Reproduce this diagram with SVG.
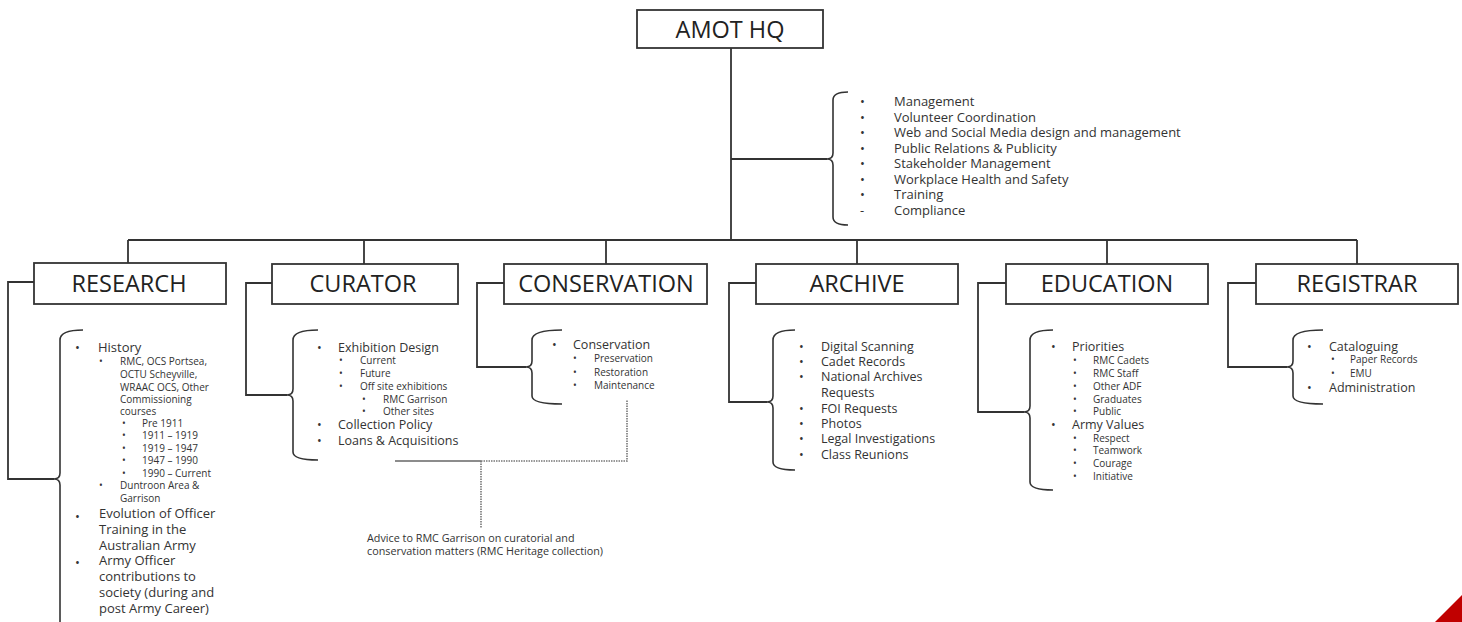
<svg xmlns="http://www.w3.org/2000/svg" width="1462" height="622" viewBox="0 0 1462 622">
<style>
.box{fill:#fff;stroke:#333;stroke-width:1.8}
.lbl{font-family:"Open Sans","Liberation Sans",sans-serif;font-size:23.5px;fill:#222;text-anchor:middle}
.ln{fill:none;stroke:#333;stroke-width:1.8}
.br{fill:none;stroke:#333;stroke-width:1.6}
.dot{fill:none;stroke:#777;stroke-width:1.6;stroke-dasharray:1.5 1}
.t1{font-family:"Open Sans","Liberation Sans",sans-serif;font-size:13px;fill:#333}
.t0{font-family:"Open Sans","Liberation Sans",sans-serif;font-size:12.5px;fill:#333}
.th{font-family:"Open Sans","Liberation Sans",sans-serif;font-size:13px;fill:#333}
.t2{font-family:"Open Sans","Liberation Sans",sans-serif;font-size:10px;fill:#333}
.note{font-family:"Open Sans","Liberation Sans",sans-serif;font-size:10.8px;fill:#333}
</style>
<rect width="1462" height="622" fill="#fff"/>

<g id="connectors">
<path class="ln" d="M731,48 V240"/>
<path class="ln" d="M731,159 H827"/>
<path class="ln" d="M128,240 H1357"/>
<path class="ln" d="M128,240 V263 M364,240 V264 M606,240 V264 M857,240 V264 M1107,240 V264 M1357,240 V264"/>
<path class="ln" d="M34,282 H8 V479 H54"/>
<path class="ln" d="M272,283 H246 V395 H287"/>
<path class="ln" d="M504,283 H477 V367 H526"/>
<path class="ln" d="M756,283 H729 V402 H767"/>
<path class="ln" d="M1006,283 H978 V412 H1024"/>
<path class="ln" d="M1256,283 H1228 V367 H1287"/>
<path class="ln" d="M395,461 H481" style="stroke:#666;stroke-width:1.4"/>
<path class="dot" d="M481,461 H627 V400"/>
<path class="dot" d="M481,461 V528"/>
</g>

<g id="hq">
<rect class="box" x="637" y="10" width="186" height="38"/>
<text class="lbl" x="730" y="38">AMOT HQ</text>
</g>

<g id="hq-list">
<path class="br" d="M848,92 Q833,92 833,100 V153 Q833,159 827,159 Q833,159 833,165 V217 Q833,225 848,225"/>
<g class="th">
<text x="860" y="106">•</text><text x="894" y="106">Management</text>
<text x="860" y="122">•</text><text x="894" y="122">Volunteer Coordination</text>
<text x="860" y="137">•</text><text x="894" y="137">Web and Social Media design and management</text>
<text x="860" y="153">•</text><text x="894" y="153">Public Relations &amp; Publicity</text>
<text x="860" y="168">•</text><text x="894" y="168">Stakeholder Management</text>
<text x="860" y="184">•</text><text x="894" y="184">Workplace Health and Safety</text>
<text x="860" y="199">•</text><text x="894" y="199">Training</text>
<text x="860" y="215">-</text><text x="894" y="215">Compliance</text>
</g>
</g>

<g id="research">
<rect class="box" x="34" y="263" width="192" height="41"/>
<text class="lbl" x="129" y="292">RESEARCH</text>
</g>
<g id="research-list">
<path class="br" d="M83,330 Q60,330 60,340 V473 Q60,479 54,479 Q60,479 60,485 V630"/>
<g class="t1">
<text x="75" y="352">•</text><text x="98" y="352">History</text>
<text x="75" y="521">•</text><text x="99" y="518">Evolution  of Officer</text>
<text x="99" y="534">Training in the</text>
<text x="99" y="550">Australian Army</text>
<text x="75" y="567">•</text><text x="99" y="565">Army Officer</text>
<text x="99" y="581">contributions   to</text>
<text x="99" y="597">society (during and</text>
<text x="99" y="613">post Army Career)</text>
</g>
<g class="t2">
<text x="99" y="365">•</text><text x="120" y="365">RMC, OCS Portsea,</text>
<text x="120" y="378">OCTU Scheyville,</text>
<text x="120" y="391">WRAAC OCS, Other</text>
<text x="120" y="403">Commissioning</text>
<text x="120" y="415">courses</text>
<text x="122" y="427">•</text><text x="142" y="427">Pre 1911</text>
<text x="122" y="439">•</text><text x="142" y="439">1911 – 1919</text>
<text x="122" y="452">•</text><text x="142" y="452">1919 – 1947</text>
<text x="122" y="464">•</text><text x="142" y="464">1947 – 1990</text>
<text x="122" y="477">•</text><text x="142" y="477">1990 – Current</text>
<text x="99" y="489">•</text><text x="120" y="489">Duntroon Area &amp;</text>
<text x="120" y="502">Garrison</text>
</g>
</g>

<g id="curator">
<rect class="box" x="272" y="264" width="186" height="40"/>
<text class="lbl" x="363" y="292">CURATOR</text>
</g>
<g id="curator-list">
<path class="br" d="M318,330 Q293,330 293,340 V389 Q293,395 287,395 Q293,395 293,401 V452 Q293,460 318,460"/>
<g class="t0">
<text x="317" y="352">•</text><text x="338" y="352">Exhibition  Design</text>
<text x="317" y="429">•</text><text x="338" y="429">Collection  Policy</text>
<text x="317" y="445">•</text><text x="338" y="445">Loans &amp; Acquisitions</text>
</g>
<g class="t2">
<text x="339" y="364">•</text><text x="360" y="364">Current</text>
<text x="339" y="377">•</text><text x="360" y="377">Future</text>
<text x="339" y="390">•</text><text x="360" y="390">Off site exhibitions</text>
<text x="362" y="403">•</text><text x="383" y="403">RMC Garrison</text>
<text x="362" y="415">•</text><text x="383" y="415">Other sites</text>
</g>
</g>

<g id="conservation">
<rect class="box" x="504" y="264" width="203" height="40"/>
<text class="lbl" x="606" y="292">CONSERVATION</text>
</g>
<g id="conservation-list">
<path class="br" d="M562,330 Q532,330 532,340 V361 Q532,367 526,367 Q532,367 532,373 V396 Q532,404 562,404"/>
<text class="t0" x="552" y="349">•</text><text class="t0" x="573" y="349">Conservation</text>
<g class="t2">
<text x="573" y="362">•</text><text x="594" y="362">Preservation</text>
<text x="573" y="376">•</text><text x="594" y="376">Restoration</text>
<text x="573" y="389">•</text><text x="594" y="389">Maintenance</text>
</g>
</g>

<g id="archive">
<rect class="box" x="756" y="264" width="202" height="40"/>
<text class="lbl" x="857" y="292">ARCHIVE</text>
</g>
<g id="archive-list">
<path class="br" d="M795,330 Q773,330 773,340 V396 Q773,402 767,402 Q773,402 773,408 V462 Q773,470 795,470"/>
<g class="t0">
<text x="799" y="351">•</text><text x="821" y="351">Digital Scanning</text>
<text x="799" y="366">•</text><text x="821" y="366">Cadet Records</text>
<text x="799" y="381">•</text><text x="821" y="381">National  Archives</text>
<text x="821" y="397">Requests</text>
<text x="799" y="413">•</text><text x="821" y="413">FOI Requests</text>
<text x="799" y="428">•</text><text x="821" y="428">Photos</text>
<text x="799" y="443">•</text><text x="821" y="443">Legal Investigations</text>
<text x="799" y="459">•</text><text x="821" y="459">Class Reunions</text>
</g>
</g>

<g id="education">
<rect class="box" x="1006" y="264" width="202" height="40"/>
<text class="lbl" x="1107" y="292">EDUCATION</text>
</g>
<g id="education-list">
<path class="br" d="M1053,330 Q1030,330 1030,340 V406 Q1030,412 1024,412 Q1030,412 1030,418 V482 Q1030,490 1053,490"/>
<g class="t0">
<text x="1051" y="351">•</text><text x="1072" y="351">Priorities</text>
<text x="1051" y="429">•</text><text x="1072" y="429">Army Values</text>
</g>
<g class="t2">
<text x="1073" y="364">•</text><text x="1093" y="364">RMC Cadets</text>
<text x="1073" y="377">•</text><text x="1093" y="377">RMC Staff</text>
<text x="1073" y="390">•</text><text x="1093" y="390">Other ADF</text>
<text x="1073" y="403">•</text><text x="1093" y="403">Graduates</text>
<text x="1073" y="415">•</text><text x="1093" y="415">Public</text>
<text x="1073" y="442">•</text><text x="1093" y="442">Respect</text>
<text x="1073" y="454">•</text><text x="1093" y="454">Teamwork</text>
<text x="1073" y="467">•</text><text x="1093" y="467">Courage</text>
<text x="1073" y="480">•</text><text x="1093" y="480">Initiative</text>
</g>
</g>

<g id="registrar">
<rect class="box" x="1256" y="264" width="202" height="40"/>
<text class="lbl" x="1357" y="292">REGISTRAR</text>
</g>
<g id="registrar-list">
<path class="br" d="M1323,330 Q1293,330 1293,340 V361 Q1293,367 1287,367 Q1293,367 1293,373 V396 Q1293,404 1323,404"/>
<g class="t0">
<text x="1307" y="351">•</text><text x="1329" y="351">Cataloguing</text>
<text x="1307" y="392">•</text><text x="1329" y="392">Administration</text>
</g>
<g class="t2">
<text x="1331" y="363">•</text><text x="1350" y="363">Paper Records</text>
<text x="1331" y="377">•</text><text x="1350" y="377">EMU</text>
</g>
</g>

<g id="note">
<text class="note" x="367" y="542">Advice to RMC Garrison on curatorial and</text>
<text class="note" x="367" y="555">conservation matters (RMC Heritage collection)</text>
</g>

<polygon points="1462,595 1462,622 1435,622" fill="#c00000"/>
</svg>
